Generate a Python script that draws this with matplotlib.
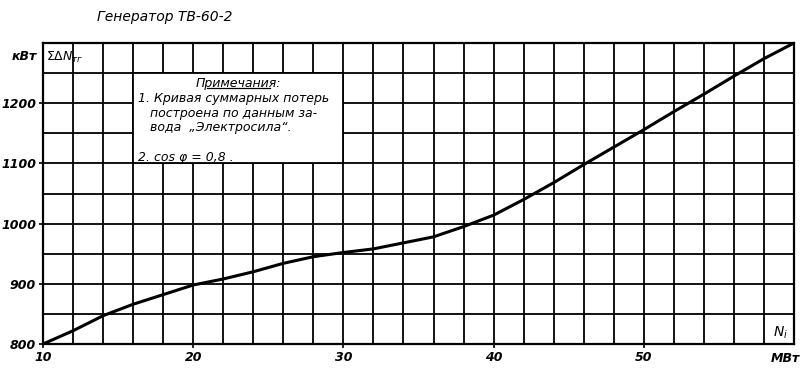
import matplotlib.pyplot as plt
from matplotlib.patches import Rectangle

# total losses of generator TV-60-2 vs active power
power_mw = [10, 12, 14, 16, 18, 20, 22, 24, 26, 28, 30, 32, 34, 36, 38,
            40, 42, 44, 46, 48, 50, 52, 54, 56, 58, 60]
losses_kw = [800, 822, 847, 866, 882, 898, 908, 920, 934, 945, 952, 958, 968, 978, 995,
             1014, 1040, 1068, 1098, 1127, 1156, 1186, 1215, 1245, 1274, 1300]

x_ticks = [10, 20, 30, 40, 50]
y_ticks = [800, 900, 1000, 1100, 1200]

title = "Генератор ТВ-60-2"
notes_head = "Примечания:"
notes = ["1. Кривая суммарных потерь",
         "   построена по данным за-",
         "   вода  „Электросила“.",
         "",
         "2. cos φ = 0,8 ."]

fig = plt.figure(figsize=(8.07, 3.75), dpi=100)
ax = fig.add_axes([0.0533, 0.0827, 0.9306, 0.8026])

ax.set_xlim(10, 60)
ax.set_ylim(800, 1300)

ax.set_xticks(x_ticks)
ax.set_xticks(range(10, 61, 2), minor=True)
ax.set_yticks(y_ticks)
ax.set_yticks(range(800, 1301, 50), minor=True)
ax.grid(True, which='both', color='black', linewidth=1.3)
ax.tick_params(which='minor', length=0)
ax.tick_params(which='major', length=3, width=1.2, pad=2, direction='out')
for s in ax.spines.values():
    s.set_linewidth(1.6)

tick_font = dict(fontsize=9, fontstyle='italic', fontweight='bold')
ax.set_xticklabels([str(v) for v in x_ticks], **tick_font)
ax.set_yticklabels([str(v) for v in y_ticks], **tick_font)

ax.plot(power_mw, losses_kw, color='black', linewidth=2.2, zorder=5)

# notes box over the grid
ax.add_patch(Rectangle((16, 1100), 14, 150, facecolor='white', edgecolor='black',
                       linewidth=1.3, zorder=3))
ax.text(23, 1233, notes_head, ha='center', va='center', fontsize=9,
        fontstyle='italic', zorder=4)
ax.plot([20.9, 25.1], [1225, 1225], color='black', linewidth=0.9, zorder=4)
for i, line in enumerate(notes):
    ax.text(16.3, 1208 - i * 24.5, line, ha='left', va='center', fontsize=9,
            fontstyle='italic', zorder=4)

fig.text(0.12, 0.955, title, fontsize=10, fontstyle='italic', va='center')
fig.text(0.046, 0.848, "кВт", fontsize=9, fontstyle='italic', fontweight='bold',
         ha='right', va='center')
ax.text(10.2, 1276, r"$\Sigma\Delta N_{тг}$", fontsize=9, fontstyle='italic',
        ha='left', va='center')
ax.text(59.6, 1218 - 400, r"$N_i$", fontsize=10, ha='right', va='center')
fig.text(0.973, 0.045, "МВт", fontsize=9, fontstyle='italic', fontweight='bold',
         ha='center', va='center')

fig.savefig('out.png', dpi=100)
